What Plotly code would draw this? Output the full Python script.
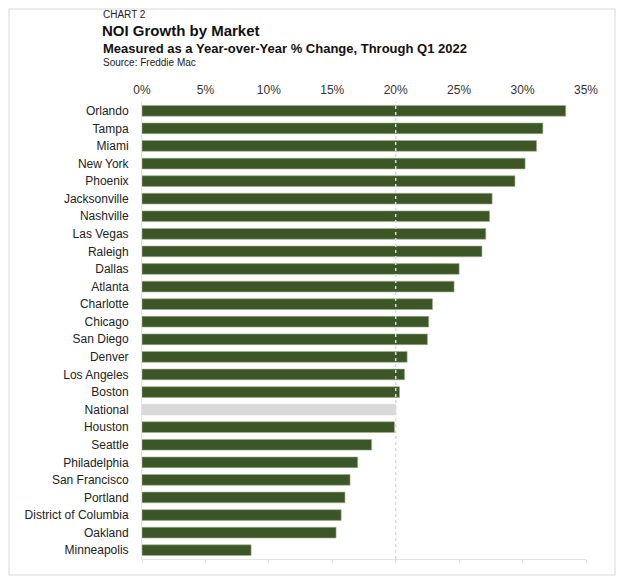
import plotly.graph_objects as go

markets = ["Orlando", "Tampa", "Miami", "New York", "Phoenix", "Jacksonville", "Nashville",
           "Las Vegas", "Raleigh", "Dallas", "Atlanta", "Charlotte", "Chicago", "San Diego",
           "Denver", "Los Angeles", "Boston", "National", "Houston", "Seattle", "Philadelphia",
           "San Francisco", "Portland", "District of Columbia", "Oakland", "Minneapolis"]
noi_growth = [33.4, 31.6, 31.1, 30.2, 29.4, 27.6, 27.4, 27.1, 26.8, 25.0, 24.6, 22.9, 22.6,
              22.5, 20.9, 20.7, 20.3, 20.0, 19.9, 18.1, 17.0, 16.4, 16.0, 15.7, 15.3, 8.6]
x_ticks = [0, 5, 10, 15, 20, 25, 30, 35]
national_avg = 20

# figure is placed at page offset (8, 8) by the default body margin
OFF = 8
W, H = 608, 570
L, R, T, B = 142 - OFF, 30, 102 - OFF, 19
pw, ph = W - L - R, H - T - B


def px(x_page):
    return (x_page - OFF - L) / pw


def py(y_page):
    return (H - B - (y_page - OFF)) / ph


GREEN = "#3d5627"
colors = ["#d9d9d9" if m == "National" else GREEN for m in markets]
lines = ["#d9d9d9" if m == "National" else "#9fb08c" for m in markets]

fig = go.Figure()
fig.add_trace(go.Bar(
    y=markets, x=noi_growth, orientation="h",
    marker=dict(color=colors, line=dict(color=lines, width=0.6)),
    hoverinfo="x+y",
))
fig.add_trace(go.Scatter(x=[0], y=[markets[0]], xaxis="x2", mode="markers",
                         marker=dict(opacity=0), showlegend=False, hoverinfo="skip"))

font_family = "Liberation Sans, Arial, sans-serif"

fig.update_layout(
    width=W, height=H,
    margin=dict(l=L, r=R, t=T, b=B, pad=0, autoexpand=False),
    paper_bgcolor="white", plot_bgcolor="white",
    showlegend=False,
    bargap=0.39,
    font=dict(family=font_family, color="#222222", size=12),
    xaxis=dict(range=[0, 35], side="top", tickvals=x_ticks,
               ticktext=[f"{v}%" for v in x_ticks], automargin=False,
               showgrid=False, zeroline=False, showline=False, ticks="",
               tickfont=dict(size=12, color="#333333"), ticklabelstandoff=5,
               fixedrange=True),
    xaxis2=dict(range=[0, 35], overlaying="x", side="bottom", anchor="y",
                tickvals=x_ticks, showticklabels=False, showgrid=False, zeroline=False,
                showline=True, linecolor="#e3e3e3", linewidth=1, automargin=False,
                ticks="outside", ticklen=3, tickcolor="#e3e3e3"),
    yaxis=dict(range=[len(markets) - 0.5, -0.5], autorange=False,
               showgrid=False, zeroline=False, automargin=False,
               showline=True, linecolor="#e3e3e3", linewidth=1, ticks="",
               tickfont=dict(size=12, color="#222222"), ticklabelstandoff=10),
    shapes=[
        dict(type="line", xref="x", yref="paper", x0=national_avg, x1=national_avg, y0=0, y1=1,
             line=dict(color="#dadada", width=1.5, dash="dot"), layer="above"),
        dict(type="rect", xref="paper", yref="paper",
             x0=px(OFF + 1), x1=px(OFF + W - 1), y0=py(575), y1=py(OFF + 1),
             line=dict(color="#e6e6e6", width=1.5), layer="below"),
    ],
    annotations=[
        dict(text="CHART 2", xref="paper", yref="paper", x=px(101), y=py(14),
             xanchor="left", yanchor="middle", showarrow=False,
             font=dict(size=10, color="#222222")),
        dict(text="<b>NOI Growth by Market</b>", xref="paper", yref="paper", x=px(100), y=py(31),
             xanchor="left", yanchor="middle", showarrow=False,
             font=dict(size=15, color="#111111")),
        dict(text="<b>Measured as a Year-over-Year % Change, Through Q1 2022</b>",
             xref="paper", yref="paper", x=px(101), y=py(48),
             xanchor="left", yanchor="middle", showarrow=False,
             font=dict(size=13, color="#111111")),
        dict(text="Source: Freddie Mac", xref="paper", yref="paper", x=px(101), y=py(63),
             xanchor="left", yanchor="middle", showarrow=False,
             font=dict(size=10, color="#222222")),
    ],
)

fig.write_html("out.html")
